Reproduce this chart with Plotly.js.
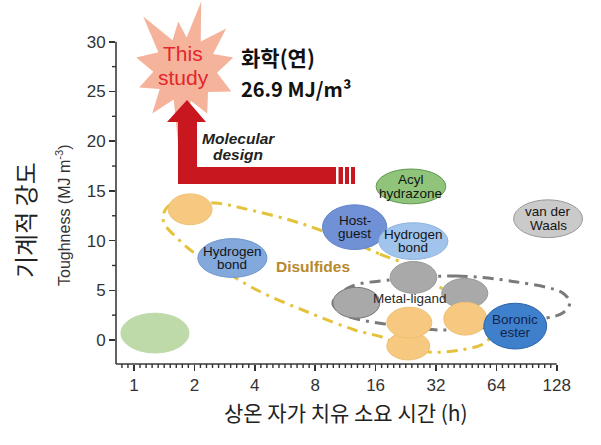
<!DOCTYPE html>
<html><head><meta charset="utf-8">
<script src="https://cdn.plot.ly/plotly-3.0.1.min.js"></script>
<style>html,body{margin:0;padding:0;background:#fff}#chart{width:601px;height:445px}</style>
</head><body><div id="chart"></div>
<script>
// ---------------- data ----------------
const xTickHours = [1, 2, 4, 8, 16, 32, 64, 128];
const yTickValues = [0, 5, 10, 15, 20, 25, 30];

// self-healing chemistries: healing time range (h) and toughness range (MJ m^-3)
const ellLabels  = ['', '', 'Hydrogen|bond', 'Host-|guest', 'Hydrogen|bond', 'Acyl|hydrazone', 'van der|Waals', '', '', '', '', '', '', 'Boronic|ester'];
const ellHoursLo = [0.86, 1.48, 2.08, 8.7, 16.6, 16.1, 78, 18.9, 9.8, 34.2, 18.2, 18.2, 35.0, 55.4];
const ellHoursHi = [1.88, 2.45, 4.6, 18.2, 36.7, 35.8, 172, 32.3, 16.8, 58.0, 29.8, 30.5, 57.3, 114];
const ellToughLo = [-1.3, 11.6, 6.3, 9.1, 8.1, 13.7, 10.3, 4.7, 2.2, 3.2, -2.0, 0.2, 0.5, -0.9];
const ellToughHi = [2.7, 14.7, 10.2, 13.6, 11.8, 17.2, 14.1, 7.9, 5.3, 6.2, 0.8, 3.3, 3.8, 3.7];

// group envelopes
const disulfHours = [11.9, 16.8, 23.7, 32.3, 47.2, 61.4, 56.0, 42.1, 29.8, 21.1, 17.8, 12.6, 7.53, 4.10, 2.53, 1.97, 1.64, 1.43, 1.395, 1.51, 2.53, 3.78, 5.98, 8.45, 11.9];
const disulfTough = [9.96, 8.65, 7.44, 5.53, 3.22, 1.01, -0.30, -1.01, -1.21, -0.60, 0.20, 1.01, 2.72, 5.03, 7.55, 8.85, 10.26, 11.57, 12.47, 13.58, 13.78, 13.08, 12.07, 11.07, 9.96];
const metalHours = [25.1, 40.6, 80.9, 137, 148.6, 137, 114, 66.6, 33.4, 17.8, 11.25, 9.80, 11.9, 18.85, 25.1];
const metalTough = [6.24, 6.44, 5.84, 4.73, 3.72, 2.72, 2.21, 1.41, 1.01, 1.61, 2.52, 3.72, 5.33, 6.04, 6.24];

const groupLabels = ['<b>Disulfides</b>', 'Metal-ligand'];
const groupHours = [7.8, 23.7];
const groupTough = [7.4, 4.2];

const thisStudyHours = 1.8;
const thisStudyTough = 26.9;

// ---------------- styles ----------------
const ellFill = ['#bedaa9', '#f7c980', '#82a8dc', '#7191d6', '#a1c4ec', '#8fc47a', '#cacaca', '#a9a9a9', '#a9a9a9', '#a9a9a9', '#f7c980', '#f7c980', '#f7c980', '#3f80cc'];
const ellLine = ['#bedaa9', '#efc072', '#7099cf', '#6282c8', '#90b4de', '#5f9a4e', '#999999', '#999999', '#777777', '#999999', '#eec070', '#eec070', '#eec070', '#2d63a8'];

const W = 601, H = 445, ML = 116, MR = 11, MT = 0, MB = 81;
const PW = W - ML - MR, PH = H - MT - MB;
const xRange = [-0.298, 7.55];
const yRange = [-2.41, 34.2];
const sans = 'Liberation Sans, Arial, sans-serif';
const kr = 'Noto Sans CJK KR, sans-serif';

// pixel -> paper helpers for decorations
const px = v => (v - ML) / PW;
const py = v => (H - MB - v) / PH;
// axis value -> paper (for axis decorations drawn outside the plot area)
const xp = v => (v - xRange[0]) / (xRange[1] - xRange[0]);
const yp = v => (v - yRange[0]) / (yRange[1] - yRange[0]);

const lg = Math.log2;

// tick labels: axis is in log2(hours); show hours
const xAlias = {};
xTickHours.forEach(h => { xAlias[String(lg(h))] = String(h); });

// ---------------- traces: envelopes ----------------
const traces = [
  {
    x: disulfHours.map(lg), y: disulfTough, mode: 'lines', type: 'scatter',
    line: {color: '#e4c23c', width: 3, dash: '11px,6px,3px,6px', shape: 'spline', smoothing: 1},
    hoverinfo: 'skip', showlegend: false
  },
  {
    x: metalHours.map(lg), y: metalTough, mode: 'lines', type: 'scatter',
    line: {color: '#7a7a7a', width: 3, dash: '11px,6px,3px,6px', shape: 'spline', smoothing: 1},
    hoverinfo: 'skip', showlegend: false
  }
];

// ---------------- shapes ----------------
const shapes = [];
const xEnd = lg(xTickHours[xTickHours.length - 1]);
const yEnd = yTickValues[yTickValues.length - 1];
// axis lines
shapes.push({type: 'line', xref: 'paper', yref: 'paper', x0: 0, x1: xp(xEnd), y0: 0, y1: 0, line: {color: '#3a3a3a', width: 1.6}});
shapes.push({type: 'line', xref: 'paper', yref: 'paper', x0: 0, x1: 0, y0: 0, y1: yp(yEnd), line: {color: '#3a3a3a', width: 1.6}});
// minor ticks (every 0.1 octave on x, every 2.5 on y)
for (let k = -2; k <= 70; k++) {
  if (k % 10 === 0) continue;
  shapes.push({type: 'line', xref: 'paper', yref: 'paper', x0: xp(k / 10), x1: xp(k / 10), y0: 0, y1: -4 / PH, line: {color: '#333', width: 1.4}});
}
for (let v = 2.5; v < yEnd; v += 5) {
  shapes.push({type: 'line', xref: 'paper', yref: 'paper', x0: 0, x1: -4 / PW, y0: yp(v), y1: yp(v), line: {color: '#333', width: 1.4}});
}

for (let i = 0; i < ellHoursLo.length; i++) {
  shapes.push({
    type: 'circle', xref: 'x', yref: 'y',
    x0: lg(ellHoursLo[i]), x1: lg(ellHoursHi[i]), y0: ellToughLo[i], y1: ellToughHi[i],
    fillcolor: ellFill[i], line: {color: ellLine[i], width: 1}, layer: 'above'
  });
}

// starburst for "This study" (pixel offsets around the data point)
const starPx = [[201,0],[200.5,40],[226,27],[212.8,52.3],[233,56],[216.8,71.2],[231,90],[207.8,90.4],[207,112],[190.9,99.4],[178,143],[173.5,97.9],[152,112],[159.5,87.4],[139,86],[153.1,70.1],[136,56],[158.1,50.7],[143,15],[172.3,38.6],[178,20],[186.4,36]];
const ax0 = 185, ay0 = 71;
let starPath = '';
starPx.forEach((p, i) => { starPath += (i === 0 ? 'M' : 'L') + (p[0] - ax0) + ',' + (ay0 - p[1]) + ' '; });
starPath += 'Z';
shapes.push({
  type: 'path', xref: 'x', yref: 'y', xsizemode: 'pixel', ysizemode: 'pixel',
  xanchor: lg(thisStudyHours), yanchor: thisStudyTough, path: starPath,
  fillcolor: '#f6b39b', line: {width: 0}, layer: 'above'
});

// red L-shaped arrow
const arrowPx = [[178,184],[178,122],[167,122],[187,100],[206,122],[197,122],[197,167],[336,167],[336,184]];
let arrowPath = '';
arrowPx.forEach((p, i) => { arrowPath += (i === 0 ? 'M' : 'L') + px(p[0]) + ',' + py(p[1]) + ' '; });
arrowPath += 'Z';
shapes.push({type: 'path', xref: 'paper', yref: 'paper', path: arrowPath, fillcolor: '#c8171e', line: {width: 0}});
[[338.5,343],[345,349],[351,355]].forEach(s => {
  shapes.push({type: 'rect', xref: 'paper', yref: 'paper', x0: px(s[0]), x1: px(s[1]), y0: py(184), y1: py(167), fillcolor: '#c8171e', line: {width: 0}});
});

// ---------------- annotations ----------------
const ann = [];
function multiLine(lines, base, spacing) {
  lines.forEach((t, j) => {
    const a = Object.assign({}, base);
    a.text = t;
    a.yshift = (base.yshift || 0) + ((lines.length - 1) / 2 - j) * spacing;
    a.showarrow = false;
    ann.push(a);
  });
}
for (let i = 0; i < ellLabels.length; i++) {
  if (!ellLabels[i]) continue;
  multiLine(ellLabels[i].split('|'), {
    xref: 'x', yref: 'y', x: (lg(ellHoursLo[i]) + lg(ellHoursHi[i])) / 2, y: (ellToughLo[i] + ellToughHi[i]) / 2,
    font: {family: sans, size: 13.5, color: i === 13 ? '#13244a' : '#141414'}
  }, 13.5);
}
groupLabels.forEach((t, i) => {
  ann.push({xref: 'x', yref: 'y', x: lg(groupHours[i]), y: groupTough[i], text: t, showarrow: false,
    font: {family: sans, size: i === 0 ? 15.5 : 13.5, color: i === 0 ? '#b8892c' : '#2a2a2a'}});
});
multiLine(['This', 'study'], {xref: 'x', yref: 'y', x: lg(thisStudyHours), y: thisStudyTough, xshift: -2, yshift: 7,
  font: {family: sans, size: 21, color: '#e3262b'}}, 24);
ann.push({xref: 'paper', yref: 'paper', x: px(239), y: py(57), xanchor: 'left', yanchor: 'middle',
  text: '<b>화학(연)</b>', showarrow: false, font: {family: kr, size: 21, color: '#111'}});
ann.push({xref: 'paper', yref: 'paper', x: px(239), y: py(88), xanchor: 'left', yanchor: 'middle',
  text: '<b>' + thisStudyTough + ' MJ/m³</b>', showarrow: false, font: {family: kr, size: 20, color: '#111'}});
multiLine(['<b><i>Molecular</i></b>', '<b><i>design</i></b>'], {xref: 'paper', yref: 'paper', x: px(238), y: py(146),
  xanchor: 'center', yanchor: 'middle', font: {family: sans, size: 15.5, color: '#222'}}, 16);
// axis titles
ann.push({xref: 'paper', yref: 'paper', x: px(346), y: py(412), xanchor: 'center', yanchor: 'middle',
  text: '상온 자가 치유 소요 시간 (h)', showarrow: false, font: {family: kr, size: 21, color: '#222'}});
ann.push({xref: 'paper', yref: 'paper', x: px(24), y: py(220), xanchor: 'center', yanchor: 'middle', textangle: -90,
  text: '기계적 강도', showarrow: false, font: {family: kr, size: 24, color: '#222'}});
ann.push({xref: 'paper', yref: 'paper', x: px(63), y: py(215), xanchor: 'center', yanchor: 'middle', textangle: -90,
  text: 'Toughness (MJ m<sup>-3</sup>)', showarrow: false, font: {family: sans, size: 16, color: '#333'}});

const layout = {
  width: W, height: H, margin: {l: ML, r: MR, t: MT, b: MB},
  paper_bgcolor: '#fff', plot_bgcolor: 'rgba(0,0,0,0)', showlegend: false,
  xaxis: {
    range: xRange, tickmode: 'linear', tick0: 0, dtick: 1, labelalias: xAlias,
    ticks: 'outside', ticklen: 6, tickwidth: 1.6, tickcolor: '#333',
    showline: false, showgrid: false, zeroline: false,
    tickfont: {family: sans, size: 17, color: '#333'}
  },
  yaxis: {
    range: yRange, tickmode: 'linear', tick0: 0, dtick: 5,
    ticks: 'outside', ticklen: 6, tickwidth: 1.6, tickcolor: '#333',
    showline: false, showgrid: false, zeroline: false,
    tickfont: {family: sans, size: 17, color: '#333'}
  },
  shapes: shapes,
  annotations: ann
};

Plotly.newPlot('chart', traces, layout, {staticPlot: true, displayModeBar: false});
</script>
</body></html>
